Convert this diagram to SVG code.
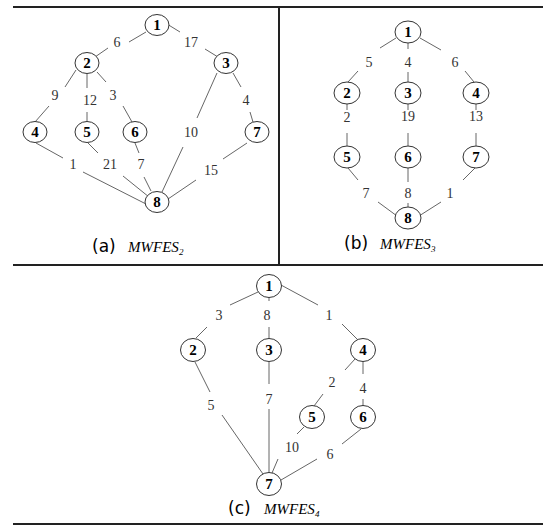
<svg xmlns="http://www.w3.org/2000/svg" width="547" height="526" viewBox="0 0 547 526">
<style>
.frame{stroke:#222;stroke-width:2;fill:none}
.e{stroke:#666;stroke-width:1;fill:none}
.n ellipse{fill:#fff;stroke:#333;stroke-width:1}
.n text{font-family:"Liberation Serif",serif;font-weight:bold;font-size:15px;text-anchor:middle;fill:#000}
.w{font-family:"Liberation Serif",serif;font-size:14px;text-anchor:middle;fill:#333}
.cap{font-family:"DejaVu Sans","Noto Sans CJK KR",sans-serif;font-size:17px;fill:#000}
.mw{font-family:"Liberation Serif",serif;font-style:italic;font-size:15px;fill:#000}
.sub{font-family:"Liberation Serif",serif;font-style:italic;font-size:9px;fill:#000}
</style>
<g id="frame">
<line class="frame" x1="13" y1="7" x2="543" y2="7"/>
<line class="frame" x1="279" y1="7" x2="279" y2="265"/>
<line class="frame" x1="13" y1="265" x2="543" y2="265"/>
<line class="frame" x1="13" y1="524" x2="543" y2="524"/>
</g>
<g id="connectors">
<path class="e" d="M146,32L129,42M108,48L95,57"/>
<path class="e" d="M167,24L180,32M205,49L218,57"/>
<path class="e" d="M76,70L65,87M49,106L35,122"/>
<path class="e" d="M87,74L87,88M87,112L87,121"/>
<path class="e" d="M97,72L106,82M123,106L132,122"/>
<path class="e" d="M217,73L197,118M183,147L162,192"/>
<path class="e" d="M233,73L241,87M250,112L253,122"/>
<path class="e" d="M36,143L63,158M83,172L146,204"/>
<path class="e" d="M88,143L98,153M123,176L149,197"/>
<path class="e" d="M135,143L139,153M144,177L151,191"/>
<path class="e" d="M247,143L223,159M196,180L168,199"/>
<path class="e" d="M396,38L380,48M358,71L348,82"/>
<path class="e" d="M408,43L408,49M408,72L408,82"/>
<path class="e" d="M420,38L441,50M465,71L474,82"/>
<path class="e" d="M347,104L347,110M347,133L347,146"/>
<path class="e" d="M408,104L408,110M408,133L408,146"/>
<path class="e" d="M476,104L476,110M476,133L476,146"/>
<path class="e" d="M348,168L358,180M378,202L397,216"/>
<path class="e" d="M408,168L408,182M408,203L408,207"/>
<path class="e" d="M475,168L463,180M441,202L419,216"/>
<path class="e" d="M258,292L230,305M207,327L196,338"/>
<path class="e" d="M269,297L269,301M269,327L269,339"/>
<path class="e" d="M281,285L318,305M342,324L358,340"/>
<path class="e" d="M195,362L210,392M222,415L263,474"/>
<path class="e" d="M269,362L269,384M269,409L269,473"/>
<path class="e" d="M355,359L345,370M323,394L314,406"/>
<path class="e" d="M363,362L363,374M363,399L363,406"/>
<path class="e" d="M304,427L297,434M278,459L272,473"/>
<path class="e" d="M361,429L342,444M317,459L281,480"/>
</g>
<g id="weights">
<text class="w" x="117" y="47">6</text>
<text class="w" x="191" y="47">17</text>
<text class="w" x="55" y="100">9</text>
<text class="w" x="90" y="105">12</text>
<text class="w" x="113" y="100">3</text>
<text class="w" x="191" y="137">10</text>
<text class="w" x="246" y="105">4</text>
<text class="w" x="73" y="169">1</text>
<text class="w" x="110" y="169">21</text>
<text class="w" x="141" y="169">7</text>
<text class="w" x="211" y="175">15</text>
<text class="w" x="369" y="67">5</text>
<text class="w" x="408" y="67">4</text>
<text class="w" x="455" y="67">6</text>
<text class="w" x="347" y="122">2</text>
<text class="w" x="408" y="121">19</text>
<text class="w" x="476" y="121">13</text>
<text class="w" x="366" y="198">7</text>
<text class="w" x="408" y="198">8</text>
<text class="w" x="450" y="198">1</text>
<text class="w" x="219" y="320">3</text>
<text class="w" x="267" y="320">8</text>
<text class="w" x="329" y="320">1</text>
<text class="w" x="211" y="410">5</text>
<text class="w" x="269" y="404">7</text>
<text class="w" x="332" y="387">2</text>
<text class="w" x="363" y="393">4</text>
<text class="w" x="292" y="452">10</text>
<text class="w" x="330" y="459">6</text>
</g>
<g id="a-nodes">
<g id="a1" class="n"><ellipse cx="157" cy="25" rx="12" ry="10.5"/><text x="157" y="30">1</text></g>
<g id="a2" class="n"><ellipse cx="87" cy="63" rx="12" ry="10.5"/><text x="87" y="68">2</text></g>
<g id="a3" class="n"><ellipse cx="226" cy="63" rx="12" ry="10.5"/><text x="226" y="68">3</text></g>
<g id="a4" class="n"><ellipse cx="35" cy="132" rx="12" ry="10.5"/><text x="35" y="137">4</text></g>
<g id="a5" class="n"><ellipse cx="87" cy="132" rx="12" ry="10.5"/><text x="87" y="137">5</text></g>
<g id="a6" class="n"><ellipse cx="135" cy="132" rx="12" ry="10.5"/><text x="135" y="137">6</text></g>
<g id="a7" class="n"><ellipse cx="257" cy="132" rx="12" ry="10.5"/><text x="257" y="137">7</text></g>
<g id="a8" class="n"><ellipse cx="157" cy="202" rx="12" ry="10.5"/><text x="157" y="207">8</text></g>
</g>
<g id="b-nodes">
<g id="b1" class="n"><ellipse cx="408" cy="32" rx="13" ry="11"/><text x="408" y="37">1</text></g>
<g id="b2" class="n"><ellipse cx="347" cy="93" rx="13" ry="11"/><text x="347" y="98">2</text></g>
<g id="b3" class="n"><ellipse cx="408" cy="93" rx="13" ry="11"/><text x="408" y="98">3</text></g>
<g id="b4" class="n"><ellipse cx="476" cy="93" rx="13" ry="11"/><text x="476" y="98">4</text></g>
<g id="b5" class="n"><ellipse cx="347" cy="157" rx="13" ry="11"/><text x="347" y="162">5</text></g>
<g id="b6" class="n"><ellipse cx="408" cy="157" rx="13" ry="11"/><text x="408" y="162">6</text></g>
<g id="b7" class="n"><ellipse cx="476" cy="157" rx="13" ry="11"/><text x="476" y="162">7</text></g>
<g id="b8" class="n"><ellipse cx="408" cy="218" rx="13" ry="11"/><text x="408" y="223">8</text></g>
</g>
<g id="c-nodes">
<g id="c1" class="n"><ellipse cx="269" cy="286" rx="12.5" ry="11.5"/><text x="269" y="291">1</text></g>
<g id="c2" class="n"><ellipse cx="193" cy="350" rx="12.5" ry="11.5"/><text x="193" y="355">2</text></g>
<g id="c3" class="n"><ellipse cx="269" cy="350" rx="12.5" ry="11.5"/><text x="269" y="355">3</text></g>
<g id="c4" class="n"><ellipse cx="363" cy="350" rx="12.5" ry="11.5"/><text x="363" y="355">4</text></g>
<g id="c5" class="n"><ellipse cx="312" cy="417" rx="12.5" ry="11.5"/><text x="312" y="422">5</text></g>
<g id="c6" class="n"><ellipse cx="363" cy="417" rx="12.5" ry="11.5"/><text x="363" y="422">6</text></g>
<g id="c7" class="n"><ellipse cx="269" cy="484" rx="12.5" ry="11.5"/><text x="269" y="489">7</text></g>
</g>
<g id="captions">
<text class="cap" x="92" y="252">(a)</text>
<text class="mw" x="128" y="252">MWFES</text><text class="sub" x="179" y="255">2</text>
<text class="cap" x="344" y="249">(b)</text>
<text class="mw" x="380" y="249">MWFES</text><text class="sub" x="431" y="252">3</text>
<text class="cap" x="228" y="514">(c)</text>
<text class="mw" x="264" y="514">MWFES</text><text class="sub" x="315" y="517">4</text>
</g>
</svg>
